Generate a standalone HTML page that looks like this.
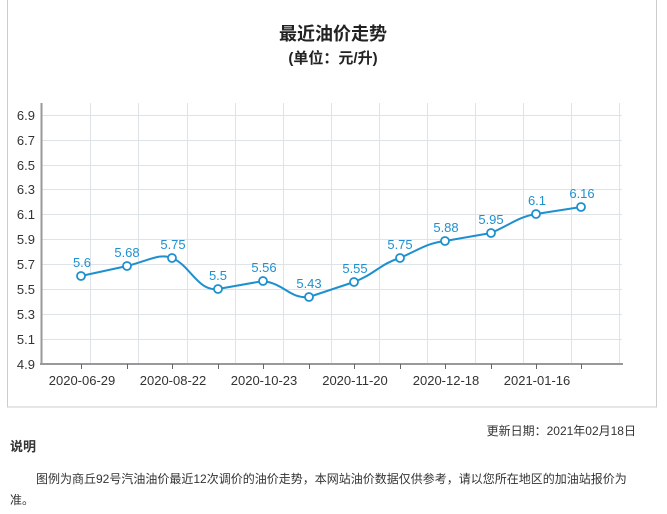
<!DOCTYPE html>
<html><head><meta charset="utf-8"><style>
body{margin:0;width:667px;height:514px;background:#fff;font-family:"Liberation Sans","Noto Sans CJK SC",sans-serif;overflow:hidden}
</style></head><body>
<svg width="667" height="514" xmlns="http://www.w3.org/2000/svg" style="position:absolute;left:0;top:0">
<rect x="7.5" y="-1" width="649" height="408" fill="#fff" stroke="#ccc"/>
<text x="333" y="40" text-anchor="middle" font-size="18" font-weight="bold" fill="#222" font-family="Liberation Sans,Noto Sans CJK SC,sans-serif">最近油价走势</text>
<text x="333" y="63" text-anchor="middle" font-size="15" font-weight="bold" fill="#222" font-family="Liberation Sans,Noto Sans CJK SC,sans-serif">(单位：元/升)</text>
<g stroke="#dde3e6" stroke-width="1">
<line x1="41" x2="622" y1="115.5" y2="115.5"/><line x1="41" x2="622" y1="140.5" y2="140.5"/><line x1="41" x2="622" y1="165.5" y2="165.5"/><line x1="41" x2="622" y1="189.5" y2="189.5"/><line x1="41" x2="622" y1="214.5" y2="214.5"/><line x1="41" x2="622" y1="239.5" y2="239.5"/><line x1="41" x2="622" y1="264.5" y2="264.5"/><line x1="41" x2="622" y1="289.5" y2="289.5"/><line x1="41" x2="622" y1="314.5" y2="314.5"/><line x1="41" x2="622" y1="339.5" y2="339.5"/>
<line x1="90.5" x2="90.5" y1="103" y2="364"/><line x1="138.5" x2="138.5" y1="103" y2="364"/><line x1="187.5" x2="187.5" y1="103" y2="364"/><line x1="235.5" x2="235.5" y1="103" y2="364"/><line x1="283.5" x2="283.5" y1="103" y2="364"/><line x1="331.5" x2="331.5" y1="103" y2="364"/><line x1="379.5" x2="379.5" y1="103" y2="364"/><line x1="427.5" x2="427.5" y1="103" y2="364"/><line x1="475.5" x2="475.5" y1="103" y2="364"/><line x1="523.5" x2="523.5" y1="103" y2="364"/><line x1="571.5" x2="571.5" y1="103" y2="364"/><line x1="619.5" x2="619.5" y1="103" y2="364"/>
</g>
<line x1="41.5" x2="41.5" y1="103" y2="365" stroke="#999" stroke-width="2"/>
<line x1="40" x2="623" y1="364" y2="364" stroke="#999" stroke-width="2"/>
<g stroke="#666"><line x1="81.5" x2="81.5" y1="364" y2="369"/><line x1="127.5" x2="127.5" y1="364" y2="369"/><line x1="172.5" x2="172.5" y1="364" y2="369"/><line x1="218.5" x2="218.5" y1="364" y2="369"/><line x1="263.5" x2="263.5" y1="364" y2="369"/><line x1="309.5" x2="309.5" y1="364" y2="369"/><line x1="354.5" x2="354.5" y1="364" y2="369"/><line x1="400.5" x2="400.5" y1="364" y2="369"/><line x1="445.5" x2="445.5" y1="364" y2="369"/><line x1="491.5" x2="491.5" y1="364" y2="369"/><line x1="536.5" x2="536.5" y1="364" y2="369"/><line x1="581.5" x2="581.5" y1="364" y2="369"/></g>
<g font-size="13" fill="#333" text-anchor="end" font-family="Liberation Sans,sans-serif">
<text x="35" y="120">6.9</text><text x="35" y="145">6.7</text><text x="35" y="170">6.5</text><text x="35" y="194">6.3</text><text x="35" y="219">6.1</text><text x="35" y="244">5.9</text><text x="35" y="269">5.7</text><text x="35" y="294">5.5</text><text x="35" y="319">5.3</text><text x="35" y="344">5.1</text><text x="35" y="369">4.9</text>
</g>
<g font-size="13" fill="#333" text-anchor="middle" font-family="Liberation Sans,sans-serif">
<text x="82" y="385">2020-06-29</text><text x="173" y="385">2020-08-22</text><text x="264" y="385">2020-10-23</text><text x="355" y="385">2020-11-20</text><text x="446" y="385">2020-12-18</text><text x="537" y="385">2021-01-16</text>
</g>
<path d="M81,276 L127,266 C150,260 160,253 172,258 C190,265 198,292 218,289 L263,281 C285,284 290,299 309,297 L354,282 C375,274 380,264 400,258 C420,249 428,243 445,241 L491,233 C510,225 518,217 536,214 L581,207" fill="none" stroke="#1e90d0" stroke-width="2"/>
<g fill="#fff" stroke="#1e90d0" stroke-width="1.8">
<circle cx="81" cy="276" r="4"/><circle cx="127" cy="266" r="4"/><circle cx="172" cy="258" r="4"/><circle cx="218" cy="289" r="4"/><circle cx="263" cy="281" r="4"/><circle cx="309" cy="297" r="4"/><circle cx="354" cy="282" r="4"/><circle cx="400" cy="258" r="4"/><circle cx="445" cy="241" r="4"/><circle cx="491" cy="233" r="4"/><circle cx="536" cy="214" r="4"/><circle cx="581" cy="207" r="4"/>
</g>
<g font-size="13" fill="#1e90d0" text-anchor="middle" font-family="Liberation Sans,sans-serif">
<text x="82" y="267">5.6</text><text x="127" y="257">5.68</text><text x="173" y="249">5.75</text><text x="218" y="280">5.5</text><text x="264" y="272">5.56</text><text x="309" y="288">5.43</text><text x="355" y="273">5.55</text><text x="400" y="249">5.75</text><text x="446" y="232">5.88</text><text x="491" y="224">5.95</text><text x="537" y="205">6.1</text><text x="582" y="198">6.16</text>
</g>
<g font-size="12" fill="#333" font-family="Liberation Sans,Noto Sans CJK SC,sans-serif">
<text x="636" y="435" text-anchor="end">更新日期：2021年02月18日</text>
<text x="10" y="451" font-weight="bold" font-size="13">说明</text>
<text x="36" y="483">图例为商丘92号汽油油价最近12次调价的油价走势，本网站油价数据仅供参考，请以您所在地区的加油站报价为</text>
<text x="10" y="504">准。</text>
</g>
</svg>
</body></html>
